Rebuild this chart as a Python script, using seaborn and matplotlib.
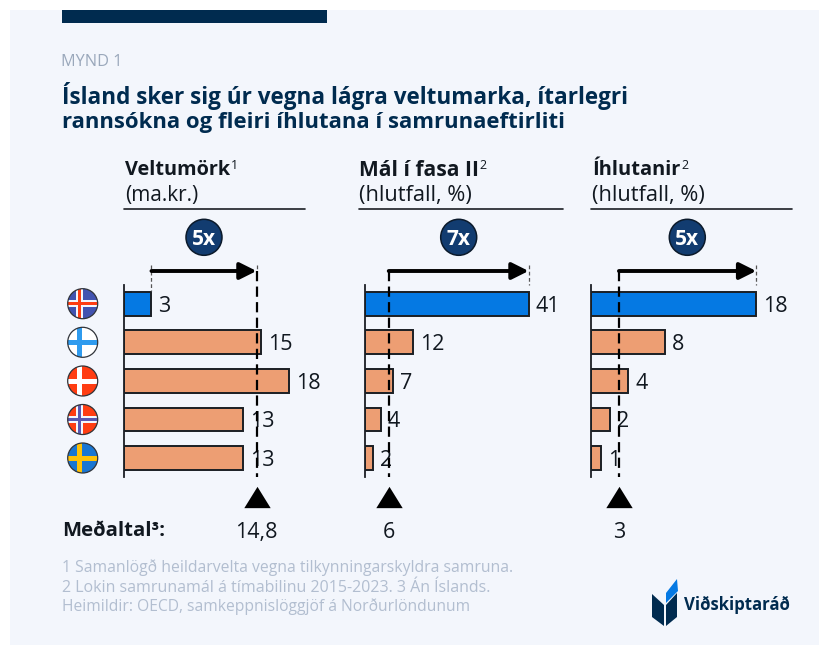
import matplotlib
matplotlib.use("Agg")
import matplotlib.pyplot as plt
from matplotlib import font_manager as fm
from matplotlib.patches import Rectangle, Circle, Polygon
from matplotlib.transforms import blended_transform_factory
import pandas as pd
import seaborn as sns

countries = ["Ísland", "Finnland", "Danmörk", "Noregur", "Svíþjóð"]
veltumork = [3, 15, 18, 13, 13]
fasa2 = [41, 12, 7, 4, 2]
ihlutanir = [18, 8, 4, 2, 1]
mean_pos = [14.47, 5.95, 3.0]
mean_labels = ["14,8", "6", "3"]
multiples = ["5x", "7x", "5x"]
heads = ["Veltumörk", "Mál í fasa II", "Íhlutanir"]
subs = ["(ma.kr.)", "(hlutfall, %)", "(hlutfall, %)"]
sups = ["1", "2", "2"]
notes = ["1 Samanlögð heildarvelta vegna tilkynningarskyldra samruna.",
         "2 Lokin samrunamál á tímabilinu 2015-2023. 3 Án Íslands.",
         "Heimildir: OECD, samkeppnislöggjöf á Norðurlöndunum"]

BG, NAVY, BADGE, BLUE, ORANGE = "#F3F6FC", "#002B4F", "#123C70", "#0579E3", "#ED9E73"
INK, GREY, NOTE = "#111820", "#9AA8BB", "#B2BED0"
W, H = 820, 645
sns.set_theme(style="white")


def has_bold(family):
    for e in fm.fontManager.ttflist:
        if e.name == family:
            wt = e.weight
            if wt in ("bold", "heavy", "extra bold", "black", "semibold", "demibold") or (
                    isinstance(wt, int) and wt >= 600):
                return True
    return False


FAMILY = next((f for f in ["Open Sans", "Noto Sans", "Roboto", "Lato", "Inter", "Liberation Sans"]
               if has_bold(f)), "DejaVu Sans")
plt.rcParams["font.family"] = [FAMILY, "DejaVu Sans"]
fig = plt.figure(figsize=(W / 100, H / 100), dpi=100, facecolor="white")
renderer = fig.canvas.get_renderer()


def fit(t, width):
    """Scale a text so that it spans the width it has in the reference."""
    t.set_fontsize(t.get_fontsize() * width / t.get_window_extent(renderer).width)
    return t


ov = fig.add_axes([0, 0, 1, 1], zorder=0)
ov.set_xlim(0, W); ov.set_ylim(H, 0); ov.axis("off")
ov.add_patch(Rectangle((10, 10), 810, 635, fc=BG, ec="none"))
ov.add_patch(Rectangle((62, 10), 265, 13, fc=NAVY, ec="none"))
fit(ov.text(61, 62, "MYND 1", color=GREY, fontsize=11, va="center"), 61)
fit(ov.text(62, 95.5, "Ísland sker sig úr vegna lágra veltumarka, ítarlegri", color=NAVY,
            fontsize=15, fontweight="bold", va="center"), 566)
fit(ov.text(62, 122.5, "rannsókna og fleiri íhlutana í samrunaeftirliti", color=NAVY,
            fontsize=15, fontweight="bold", va="center"), 503)

panel_x = [124, 365, 591.5]
panel_scale = [9.16, 3.99, 9.15]
panel_max = [20, 50, 22]
head_rule = [(124, 305), (359, 563), (591, 792)]
head_x = [125.5, 359, 592.5]
head_w = [105, 119, 88]
sub_w = [74, 112, 112]
badge_x = [204, 458.7, 687.3]
series = [veltumork, fasa2, ihlutanir]
top, bottom = 285, 477
arrow_y = 271
palette = [BLUE] + [ORANGE] * 4
DASH = (0, (4.6, 2.4))

for i, vals in enumerate(series):
    ax = fig.add_axes([panel_x[i] / W, 1 - bottom / H,
                       panel_scale[i] * panel_max[i] / W, (bottom - top) / H], zorder=2)
    ax.patch.set_alpha(0)
    df = pd.DataFrame({"land": countries, "gildi": vals})
    sns.barplot(data=df, y="land", x="gildi", hue="land", palette=palette, order=countries,
                hue_order=countries, dodge=False, legend=False, width=0.62, saturation=1,
                edgecolor="#1b1f24", linewidth=1.4, ax=ax)
    ax.set_xlim(0, panel_max[i]); ax.set_ylim(4.49, -0.484)
    ax.set_xlabel(""); ax.set_ylabel(""); ax.set_xticks([]); ax.set_yticks([])
    sns.despine(ax=ax, top=True, right=True, bottom=True)
    ax.spines["left"].set_color("#1b1f24"); ax.spines["left"].set_linewidth(1.3)
    for c in ax.containers:
        for t in ax.bar_label(c, padding=5, fontsize=15.5, color=INK):
            t.set_va("center_baseline")

    tr = blended_transform_factory(ax.transData, ov.transData)
    m = mean_pos[i]; ice = vals[0]
    ax.plot([m, m], [arrow_y, bottom], transform=tr, clip_on=False, color="black", lw=1.6,
            ls=DASH, zorder=6)
    ax.plot([m], [497], transform=tr, marker=[(-13, -10.5), (13, -10.5), (0, 10.5)], ms=19,
            color="black", mec="none", clip_on=False, zorder=6)
    ax.plot([ice, ice], [arrow_y - 6, top + (0 if i else 6)], transform=tr, clip_on=False,
            color="#555555", lw=0.9, ls=(0, (3, 2)), zorder=5)
    start, end = (ice, m) if i == 0 else (m, ice)
    if i == 0:
        ax.plot([m, m], [arrow_y - 6, arrow_y], transform=tr, clip_on=False,
                color="#555555", lw=0.9, ls=(0, (3, 2)), zorder=5)
    ax.annotate("", xy=(end, arrow_y), xytext=(start, arrow_y), xycoords=tr, textcoords=tr,
                annotation_clip=False, zorder=7,
                arrowprops=dict(arrowstyle="-|>,head_length=0.56,head_width=0.28", lw=2.8,
                                color="black", shrinkA=0, shrinkB=0, mutation_scale=18))
    ax.text(m, 530, mean_labels[i], transform=tr, ha="center", va="center_baseline",
            fontsize=15.5, color=INK, clip_on=False)

    t = fit(ov.text(head_x[i], 170, heads[i], fontsize=13, fontweight="bold", color=INK,
                    va="center"), head_w[i])
    ov.annotate(sups[i], xy=(1, 1), xycoords=t, xytext=(0.5, 0.5), textcoords="offset points",
                fontsize=9, color=INK, va="top")
    fit(ov.text(head_x[i], 196, subs[i], fontsize=13, color=INK, va="center"), sub_w[i])
    ov.plot(head_rule[i], [209, 209], color="#1b1f24", lw=1.2)
    ov.add_patch(Circle((badge_x[i], 237.3), 18, fc=BADGE, ec="#0b1a2b", lw=1.1))
    ov.text(badge_x[i], 237.3, multiples[i], color="white", fontsize=15, fontweight="bold",
            ha="center", va="center_baseline")


def flag(cy, bg, cross, inner=None):
    cx, r = 82.7, 15
    circ = Circle((cx, cy), r, fc=bg, ec="none", zorder=3)
    ov.add_patch(circ)
    vx = cx - 3
    wide = 7 if inner else 5
    pieces = [(vx - wide / 2, cy - r, wide, 2 * r, cross), (cx - r, cy - wide / 2, 2 * r, wide, cross)]
    if inner:
        pieces += [(vx - 1.6, cy - r, 3.2, 2 * r, inner), (cx - r, cy - 1.6, 2 * r, 3.2, inner)]
    for x, y, w, h, col in pieces:
        p = Rectangle((x, y), w, h, fc=col, ec="none", zorder=3.1)
        ov.add_patch(p); p.set_clip_path(circ)
    ov.add_patch(Circle((cx, cy), r, fc="none", ec="#30343a", lw=0.9, zorder=3.2))


flag_y = [303.7, 342.3, 381, 419.5, 458]
flag(flag_y[0], "#4253B0", "#F3F6FC", "#FF3D12")
flag(flag_y[1], "#FFFFFF", "#2F9BEE")
flag(flag_y[2], "#FF3D12", "#FFFFFF")
flag(flag_y[3], "#FF3D12", "#F3F6FC", "#5A57B0")
flag(flag_y[4], "#1976D2", "#FFC107")

fit(ov.text(62, 531, "Meðaltal³:", fontsize=13, fontweight="bold", color=INK, va="center"), 102)
for y, s, w in zip([567.5, 587.5, 606.5], notes, [448, 429, 405]):
    fit(ov.text(62, y, s, color=NOTE, fontsize=10.3, va="center"), w)

ov.add_patch(Polygon([(652, 594), (664, 605), (664, 626), (652, 617)], fc=NAVY, ec="none"))
ov.add_patch(Polygon([(666, 626), (677, 617), (677, 593), (666, 605)], fc=NAVY, ec="none"))
ov.add_patch(Polygon([(666, 603), (666, 593), (677, 579), (678, 591)], fc=BLUE, ec="none"))
fit(ov.text(684, 604.5, "Viðskiptaráð", color=NAVY, fontsize=11.6, fontweight="bold",
            va="center"), 106)

fig.savefig("out.png", dpi=100, facecolor="white")
